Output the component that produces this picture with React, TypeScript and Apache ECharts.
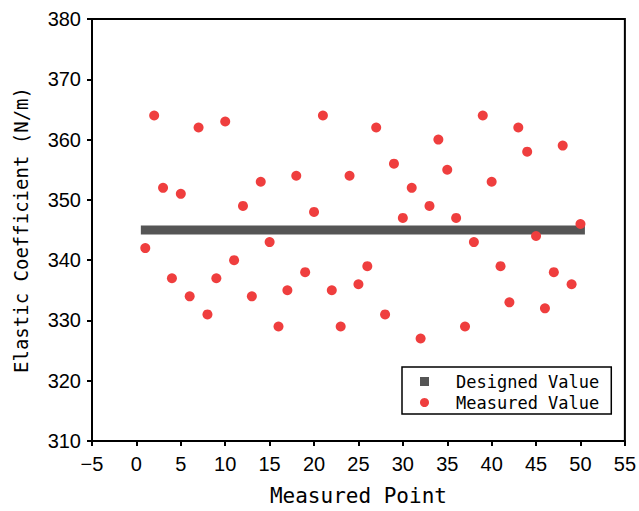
import React, { useEffect, useRef } from "react";
import * as echarts from "echarts";

const pointIds: number[] = Array.from({ length: 50 }, (_, i) => i + 1);
const measuredValues: number[] = [
  342, 364, 352, 337, 351, 334, 362, 331, 337, 363,
  340, 349, 334, 353, 343, 329, 335, 354, 338, 348,
  364, 335, 329, 354, 336, 339, 362, 331, 356, 347,
  352, 327, 349, 360, 355, 347, 329, 343, 364, 353,
  339, 333, 362, 358, 344, 332, 338, 359, 336, 346,
];
const designedValue = 345;
const designedRange: number[] = [0.5, 50.5];

export default function App() {
  const ref = useRef<HTMLDivElement>(null);
  useEffect(() => {
    document.body.style.margin = "0";
    if (!ref.current) return;
    const chart = echarts.init(ref.current, undefined, { renderer: "svg" });
    const mono = "DejaVu Sans Mono";
    chart.setOption({
      animation: false,
      backgroundColor: "#fff",
      grid: {
        left: 92,
        top: 19,
        right: 12,
        bottom: 67,
        show: true,
        borderColor: "#000",
        borderWidth: 2,
        backgroundColor: "transparent",
      },
      legend: {
        orient: "vertical",
        left: 402,
        top: 367,
        padding: [6, 12, 3, 18],
        borderColor: "#000",
        borderWidth: 1.5,
        itemGap: 4,
        itemWidth: 9,
        itemHeight: 9,
        textStyle: {
          fontFamily: mono,
          fontSize: 17,
          color: "#000",
          lineHeight: 17,
          padding: [0, 0, 0, 22],
        },
        data: [
          { name: "Designed Value", icon: "rect", itemStyle: { color: "#555555" } },
          { name: "Measured Value", icon: "circle", itemStyle: { color: "#ef3e3e" } },
        ],
      },
      xAxis: {
        type: "value",
        min: -5,
        max: 55,
        interval: 5,
        name: "Measured Point",
        nameLocation: "middle",
        nameGap: 44,
        nameTextStyle: { fontFamily: mono, fontSize: 21, color: "#000" },
        axisLine: { show: true, onZero: false, lineStyle: { color: "#000", width: 2 } },
        axisTick: { show: true, length: 5, lineStyle: { color: "#000", width: 2 } },
        axisLabel: {
          margin: 13,
          fontFamily: "Liberation Sans",
          fontSize: 20,
          color: "#000",
          formatter: (v: number) => String(v).replace("-", "\u2212"),
        },
        splitLine: { show: false },
      },
      yAxis: {
        type: "value",
        min: 310,
        max: 380,
        interval: 10,
        name: "Elastic Coefficient (N/m)",
        nameLocation: "middle",
        nameGap: 62,
        nameTextStyle: { fontFamily: mono, fontSize: 19, color: "#000" },
        axisLine: { show: true, onZero: false, lineStyle: { color: "#000", width: 2 } },
        axisTick: { show: true, length: 5, lineStyle: { color: "#000", width: 2 } },
        axisLabel: {
          margin: 11,
          fontFamily: "Liberation Sans",
          fontSize: 20,
          color: "#000",
        },
        splitLine: { show: false },
      },
      series: [
        {
          name: "Designed Value",
          type: "line",
          data: designedRange.map((x) => [x, designedValue]),
          symbol: "none",
          lineStyle: { color: "#555555", width: 9, cap: "butt" },
          itemStyle: { color: "#555555" },
          z: 2,
        },
        {
          name: "Measured Value",
          type: "scatter",
          data: pointIds.map((x, i) => [x, measuredValues[i]]),
          symbol: "circle",
          symbolSize: 10,
          itemStyle: { color: "#ef3e3e", opacity: 1 },
          z: 3,
        },
      ],
    });
    return () => chart.dispose();
  }, []);
  return <div ref={ref} style={{ width: 639, height: 511 }} />;
}
